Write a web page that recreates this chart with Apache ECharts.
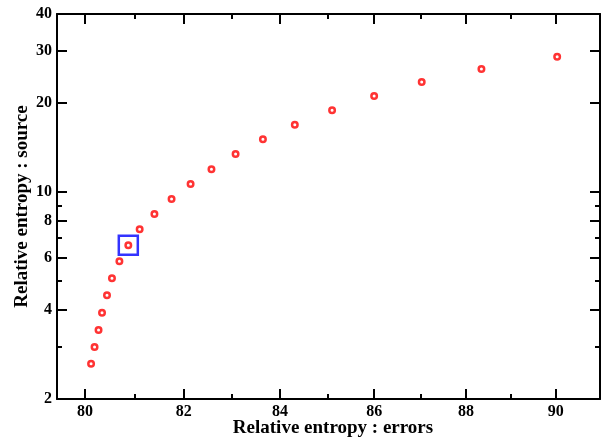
<!DOCTYPE html>
<html>
<head>
<meta charset="utf-8">
<script src="https://cdn.jsdelivr.net/npm/echarts@6/dist/echarts.min.js"></script>
<style>html,body{margin:0;padding:0;background:#fff;}#chart{width:601px;height:439px;}</style>
</head>
<body>
<div id="chart"></div>
<script>
// Data
const errorsX = [80.12, 80.19, 80.27, 80.34, 80.44, 80.54, 80.69, 80.87, 81.10, 81.40, 81.75, 82.14, 82.57, 83.07, 83.64, 84.31, 85.10, 86.00, 87.03, 88.34, 90.03];
const sourceY = [2.63, 3.00, 3.42, 3.91, 4.48, 5.12, 5.84, 6.61, 7.49, 8.44, 9.48, 10.66, 11.95, 13.46, 15.09, 16.91, 18.91, 21.14, 23.57, 26.08, 28.70];
const highlightX = [80.87];
const highlightY = [6.61];
const xMajorTicks = [80, 82, 84, 86, 88, 90];
const xMinorTicks = [81, 83, 85, 87, 89];
const yMajorTicks = [2, 4, 6, 8, 10, 20, 30, 40];
const yMinorTicks = [3, 5, 7, 9];
const xTitle = 'Relative entropy : errors';
const yTitle = 'Relative entropy : source';

const FONT = 'Liberation Serif';
const X_MIN = 79.44, X_MAX = 91.0, Y_MIN = 2, Y_MAX = 40;

function xAx(pos, ticks, len, labels, line, name) {
  return {
    type: 'log', logBase: 10, min: X_MIN, max: X_MAX, position: pos,
    axisLine: {show: line, onZero: false, lineStyle: {color: '#000', width: 2}},
    axisTick: {show: true, inside: true, length: len, customValues: ticks, lineStyle: {color: '#000', width: 2}},
    axisLabel: labels ? {show: true, customValues: ticks, color: '#000', fontFamily: FONT, fontWeight: 'bold', fontSize: 16, margin: 5} : {show: false},
    splitLine: {show: false}, minorTick: {show: false},
    name: name || '', nameLocation: 'middle', nameGap: 20, nameMoveOverlap: false,
    nameTextStyle: {color: '#000', fontFamily: FONT, fontWeight: 'bold', fontSize: 19, padding: [0, 0, 0, 9]}
  };
}
function yAx(pos, ticks, len, labels, line, name) {
  return {
    type: 'log', logBase: 10, min: Y_MIN, max: Y_MAX, position: pos,
    axisLine: {show: line, onZero: false, lineStyle: {color: '#000', width: 2}},
    axisTick: {show: true, inside: true, length: len, customValues: ticks, lineStyle: {color: '#000', width: 2}},
    axisLabel: labels ? {show: true, customValues: ticks, color: '#000', fontFamily: FONT, fontWeight: 'bold', fontSize: 16, margin: 5} : {show: false},
    splitLine: {show: false}, minorTick: {show: false},
    name: name || '', nameLocation: 'middle', nameGap: 25, nameMoveOverlap: false,
    nameTextStyle: {color: '#000', fontFamily: FONT, fontWeight: 'bold', fontSize: 19}
  };
}

const chart = echarts.init(document.getElementById('chart'), null, {renderer: 'canvas'});
chart.setOption({
  animation: false,
  backgroundColor: '#fff',
  grid: {left: 57, right: 1, top: 14, bottom: 40, containLabel: false, outerBoundsMode: 'none'},
  xAxis: [
    xAx('bottom', xMajorTicks, 10, true, true, xTitle),
    xAx('bottom', xMinorTicks, 5, false, false),
    xAx('top', xMajorTicks, 10, false, true),
    xAx('top', xMinorTicks, 5, false, false)
  ],
  yAxis: [
    yAx('left', yMajorTicks, 10, true, true, yTitle),
    yAx('left', yMinorTicks, 5, false, false),
    yAx('right', yMajorTicks, 10, false, true),
    yAx('right', yMinorTicks, 5, false, false)
  ],
  series: [
    {
      type: 'scatter', xAxisIndex: 0, yAxisIndex: 0,
      data: errorsX.map((x, i) => [x, sourceY[i]]),
      symbol: 'circle', symbolSize: 5.5,
      itemStyle: {color: '#fff', borderColor: '#ff0000', borderWidth: 2.5}
    },
    {
      type: 'scatter', xAxisIndex: 0, yAxisIndex: 0,
      data: highlightX.map((x, i) => [x, highlightY[i]]),
      symbol: 'rect', symbolSize: 19,
      itemStyle: {color: 'rgba(0,0,0,0)', borderColor: '#0000ff', borderWidth: 2.5}
    }
  ]
});
</script>
</body>
</html>
